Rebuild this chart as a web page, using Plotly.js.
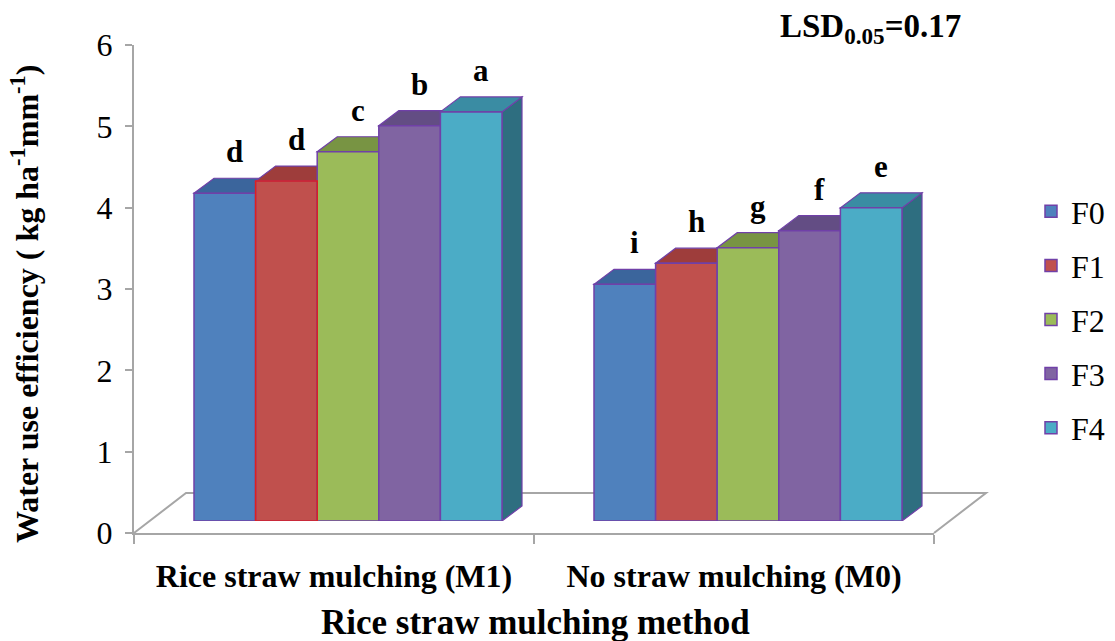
<!DOCTYPE html>
<html><head><meta charset="utf-8">
<script src="https://cdn.plot.ly/plotly-3.0.1.min.js"></script>
<style>html,body{margin:0;padding:0;background:#fff}#chart{width:1115px;height:641px}</style>
</head><body><div id="chart"></div>
<script>
// ---- data ----
const categories = ['Rice straw mulching (M1)', 'No straw mulching (M0)'];
const seriesNames = ['F0', 'F1', 'F2', 'F3', 'F4'];
const F0 = [4.03, 2.91];
const F1 = [4.18, 3.17];
const F2 = [4.54, 3.36];
const F3 = [4.86, 3.57];
const F4 = [5.03, 3.85];
const lettersF0 = ['d', 'i'];
const lettersF1 = ['d', 'h'];
const lettersF2 = ['c', 'g'];
const lettersF3 = ['b', 'f'];
const lettersF4 = ['a', 'e'];
const yTickVals = [0, 1, 2, 3, 4, 5, 6];
const yTitle = 'Water use efficiency ( kg ha<sup>-1</sup>mm<sup>-1</sup>)';
const xTitle = 'Rice straw mulching method';
const lsdText = 'LSD<sub>0.05</sub>=0.17';

// ---- styling ----
const W = 1115, H = 641;
const FONT = 'Liberation Serif';
const frontColors = ['#4F81BD', '#C0504D', '#9BBB59', '#8064A2', '#4BACC6'];
const topColors = ['#3B659C', '#9E3D3B', '#789443', '#634D84', '#3A8CA3'];
const sideColors = ['#305A8A', '#8A3230', '#66803A', '#553F72', '#2E6E80'];
const outline = '#7040A8';
const gridGrey = '#A6A6A6';
const highlightOutline = {series: 1, cat: 0, color: '#E0201C'};

const series = [F0, F1, F2, F3, F4];
const letters = [lettersF0, lettersF1, lettersF2, lettersF3, lettersF4];

// geometry (pixels)
const plotL = 134, plotR = 934, plotT = 45, plotB = 533;
const floorDX = 52, floorDY = 40;     // depth of floor
const barShiftX = 14, barShiftY = 12; // bars placed mid-depth
const faceDX = 20, faceDY = 15;       // bar depth
const pxPerCat = (plotR - plotL) / 2;
const pxPerUnit = (plotB - plotT) / 6;
const groupWidth = 0.77, nS = series.length, bw = groupWidth / nS;
const ddx = faceDX / pxPerCat, ddy = faceDY / pxPerUnit;

const px = x => x / W, py = y => 1 - y / H;

const traces = [];
traces.push({x: categories, y: [0, 0], type: 'scatter', mode: 'markers',
  marker: {opacity: 0}, showlegend: false, hoverinfo: 'skip', xaxis: 'x', yaxis: 'y'});

const shapes = [];
const annotations = [];

series.forEach((vals, i) => {
  const off = -groupWidth / 2 + bw * i;
  traces.push({
    type: 'bar', name: seriesNames[i], legendgroup: seriesNames[i],
    x: categories.map((c, j) => j), y: vals,
    width: bw, offset: off,
    xaxis: 'x2', yaxis: 'y2',
    marker: {color: frontColors[i], line: {color: outline, width: 1.5}},
    hoverinfo: 'skip'
  });
  vals.forEach((v, j) => {
    const xl = j + off, xr = xl + bw;
    shapes.push({type: 'path', xref: 'x2', yref: 'y2', layer: 'below',
      path: `M${xr},0 L${xr},${v} L${xr + ddx},${v + ddy} L${xr + ddx},${ddy} Z`,
      fillcolor: sideColors[i], line: {color: outline, width: 1.2}});
    shapes.push({type: 'path', xref: 'x2', yref: 'y2', layer: 'below',
      path: `M${xl},${v} L${xr},${v} L${xr + ddx},${v + ddy} L${xl + ddx},${v + ddy} Z`,
      fillcolor: topColors[i], line: {color: outline, width: 1.2}});
    if (i === highlightOutline.series && j === highlightOutline.cat) {
      shapes.push({type: 'rect', xref: 'x2', yref: 'y2', layer: 'above',
        x0: xl, x1: xr, y0: 0, y1: v, fillcolor: 'rgba(0,0,0,0)',
        line: {color: highlightOutline.color, width: 1.5}});
    }
    annotations.push({xref: 'x2', yref: 'y2', x: xl + bw / 2 + ddx / 2, y: v + ddy,
      xanchor: 'center', yanchor: 'bottom', yshift: 7, showarrow: false, text: letters[i][j],
      font: {family: FONT, size: 31, weight: 'bold', color: '#000'}});
  });
});

shapes.push({type: 'path', xref: 'paper', yref: 'paper', layer: 'below',
  path: `M${px(plotL)},${py(plotB)} L${px(plotL + floorDX)},${py(plotB - floorDY)} L${px(plotR + floorDX)},${py(plotB - floorDY)} L${px(plotR)},${py(plotB)}`,
  line: {color: gridGrey, width: 2}});

annotations.push({xref: 'paper', yref: 'paper', x: px(25), y: py(304), textangle: -90,
  xanchor: 'center', yanchor: 'middle',
  showarrow: false, text: yTitle, font: {family: FONT, size: 32, weight: 'bold', color: '#000'}});
annotations.push({xref: 'paper', yref: 'paper', x: px(535), y: py(622),
  xanchor: 'center', yanchor: 'middle',
  showarrow: false, text: xTitle, font: {family: FONT, size: 35, weight: 'bold', color: '#000'}});
annotations.push({xref: 'paper', yref: 'paper', x: px(870), y: py(29),
  xanchor: 'center', yanchor: 'middle',
  showarrow: false, text: lsdText, font: {family: FONT, size: 33, weight: 'bold', color: '#000'}});

const layout = {
  width: W, height: H,
  margin: {l: 0, r: 0, t: 0, b: 0},
  paper_bgcolor: '#fff', plot_bgcolor: 'rgba(0,0,0,0)',
  showlegend: true,
  barmode: 'group',
  font: {family: FONT, color: '#000'},
  xaxis: {domain: [px(plotL), px(plotR)], type: 'category', range: [-0.5, 1.5],
    showline: true, linecolor: gridGrey, linewidth: 2,
    ticks: 'outside', tickson: 'boundaries', ticklen: 9, tickwidth: 2, tickcolor: gridGrey,
    ticklabelstandoff: 14,
    tickfont: {family: FONT, size: 32, weight: 'bold', color: '#000'},
    showgrid: false, zeroline: false, fixedrange: true},
  yaxis: {domain: [py(plotB), py(plotT)], range: [0, 6], tickvals: yTickVals,
    showline: true, linecolor: gridGrey, linewidth: 2,
    ticks: 'outside', ticklen: 7, tickwidth: 2, tickcolor: gridGrey,
    ticklabelstandoff: 6,
    tickfont: {family: FONT, size: 32, color: '#000'},
    showgrid: false, zeroline: false, fixedrange: true},
  xaxis2: {domain: [px(plotL + barShiftX), px(plotR + barShiftX)], range: [-0.5, 1.5],
    anchor: 'y2', visible: false, fixedrange: true},
  yaxis2: {domain: [py(plotB - barShiftY), py(plotT - barShiftY)], range: [0, 6],
    anchor: 'x2', visible: false, fixedrange: true},
  legend: {x: px(1031), xanchor: 'left', y: py(184), yanchor: 'top',
    font: {family: FONT, size: 32, color: '#000'}, tracegroupgap: 9.5,
    bgcolor: 'rgba(0,0,0,0)'},
  shapes: shapes,
  annotations: annotations
};

Plotly.newPlot('chart', traces, layout, {displayModeBar: false, staticPlot: true});
</script>
</body></html>
